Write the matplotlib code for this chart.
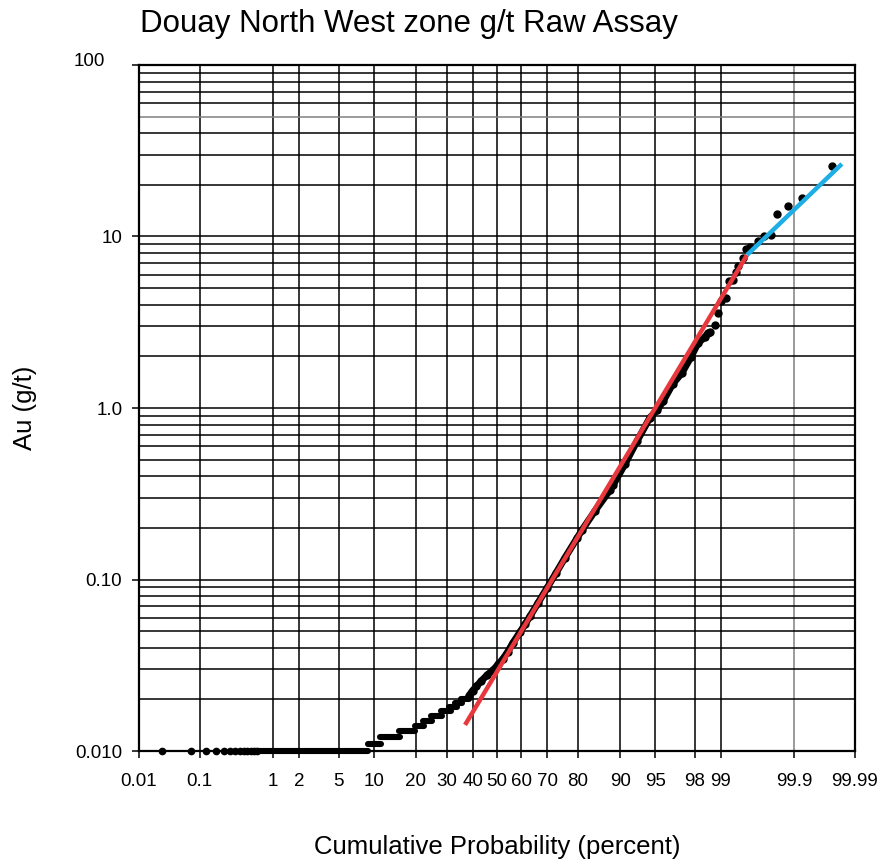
import math
import numpy as np
import matplotlib
matplotlib.use("Agg")
import matplotlib.pyplot as plt
import matplotlib.transforms as mtransforms

plt.rcParams['font.family'] = ['Liberation Sans', 'DejaVu Sans']

# --- data (cumulative percent, Au g/t) ---
# lowest assays, individual dots on the 0.010 detection limit
tail_pct = [0.025, 0.075, 0.125, 0.175, 0.225, 0.275, 0.325, 0.375,
            0.425, 0.475, 0.525, 0.575, 0.625]
tail_val = [0.010] * len(tail_pct)

# flat runs of equal assays (value, from %, to %)
step_val = [0.010, 0.011, 0.012, 0.013, 0.014, 0.015, 0.016, 0.017,
            0.018, 0.019, 0.020]
step_lo = [0.6, 9.0, 11.2, 15.4, 19.7, 22.0, 24.8, 28.0, 31.0, 33.0, 35.5]
step_hi = [9.0, 11.4, 15.6, 19.8, 22.5, 25.0, 28.5, 31.5, 34.0, 36.0, 38.5]

# dense rising part of the curve
curve_pct = [38.5, 40.0, 41.5, 43.5, 46.0, 48.5, 50.5, 52.5, 54.5, 56.6,
             59.5, 61.5, 63.4, 66.5, 69.8, 73.0, 76.0, 79.7, 81.2, 84.5,
             88.0, 88.6, 90.8, 92.7, 94.4, 95.2, 95.8, 96.6, 97.26, 97.8,
             98.16, 98.46, 98.58]
curve_val = [0.021, 0.0225, 0.0238, 0.0256, 0.0278, 0.0298, 0.032, 0.0345,
             0.038, 0.0428, 0.0495, 0.055, 0.061, 0.073, 0.089, 0.109,
             0.134, 0.174, 0.195, 0.250, 0.333, 0.355, 0.470, 0.640,
             0.880, 0.973, 1.10, 1.38, 1.60, 1.98, 2.39, 2.59, 2.74]

# sparse high-grade tail
top_pct = [98.65, 98.82, 98.91, 99.0, 99.13, 99.20, 99.29, 99.35, 99.38,
           99.47, 99.51, 99.57, 99.66, 99.72, 99.78, 99.82, 99.874,
           99.923, 99.975]
top_val = [2.76, 3.05, 3.6, 4.2, 4.4, 5.5, 5.6, 6.2, 6.7, 7.5, 8.4, 8.7,
           9.4, 10.1, 10.2, 13.5, 15.0, 16.8, 25.8]

# fitted populations
red_pct = [37.0, 99.53]
red_val = [0.0142, 7.8]
blue_pct = [99.53, 99.983]
blue_val = [7.8, 26.5]

prob_ticks = [0.01, 0.1, 1, 2, 5, 10, 20, 30, 40, 50, 60, 70, 80, 90, 95,
              98, 99, 99.9, 99.99]
prob_labels = ['0.01', '0.1', '1', '2', '5', '10', '20', '30', '40', '50',
               '60', '70', '80', '90', '95', '98', '99', '99.9', '99.99']
au_ticks = [0.01, 0.1, 1, 10, 100]
au_labels = ['0.010', '0.10', '1.0', '10', '100']


# --- probability (probit) scale, no scipy available ---
A = [-3.969683028665376e+01, 2.209460984245205e+02, -2.759285104469687e+02,
     1.383577518672690e+02, -3.066479806614716e+01, 2.506628277459239e+00]
B = [-5.447609879822406e+01, 1.615858368580409e+02, -1.556989798598866e+02,
     6.680131188771972e+01, -1.328068155288572e+01]
C = [-7.784894002430293e-03, -3.223964580411365e-01, -2.400758277161838e+00,
     -2.549671010229583e+00, 4.374664141464968e+00, 2.938163982698783e+00]
D = [7.784695709041462e-03, 3.224671290700398e-01, 2.445134137142996e+00,
     3.754408661907416e+00]


def _tail(t):
    num = ((((C[0] * t + C[1]) * t + C[2]) * t + C[3]) * t + C[4]) * t + C[5]
    den = (((D[0] * t + D[1]) * t + D[2]) * t + D[3]) * t + 1
    return num / den


def pct_to_z(p):
    p = np.asarray(p, dtype=float)
    shape = p.shape
    q = np.clip(np.atleast_1d(p) / 100.0, 1e-12, 1 - 1e-12)
    z = np.empty_like(q)
    lo = q < 0.02425
    hi = q > 1 - 0.02425
    mid = ~(lo | hi)
    r = q[mid] - 0.5
    s = r * r
    z[mid] = ((((((A[0] * s + A[1]) * s + A[2]) * s + A[3]) * s + A[4]) * s + A[5]) * r /
              (((((B[0] * s + B[1]) * s + B[2]) * s + B[3]) * s + B[4]) * s + 1))
    z[lo] = _tail(np.sqrt(-2 * np.log(q[lo])))
    z[hi] = -_tail(np.sqrt(-2 * np.log(1 - q[hi])))
    return z.reshape(shape)


_erfc = np.vectorize(math.erfc)


def z_to_pct(z):
    return 50.0 * _erfc(-np.asarray(z, dtype=float) / math.sqrt(2))


# --- figure ---
fig = plt.figure(figsize=(8.82, 8.63), dpi=100)
ax = fig.add_axes([139 / 882, 1 - 751 / 863, 716 / 882, 686 / 863])

ax.set_xscale('function', functions=(pct_to_z, z_to_pct))
ax.set_yscale('log')
ax.set_xlim(0.01, 99.99)
ax.set_ylim(0.01, 100)

ax.set_xticks(prob_ticks, prob_labels)
ax.set_yticks(au_ticks, au_labels)
ax.yaxis.set_minor_locator(matplotlib.ticker.LogLocator(base=10, subs=np.arange(2, 10)))
ax.yaxis.set_minor_formatter(matplotlib.ticker.NullFormatter())

ax.set_axisbelow(True)
ax.grid(True, axis='x', which='major', color='black', linewidth=1.1)
ax.grid(True, axis='y', which='both', color='black', linewidth=1.1)

# 99.9 line and 50 g/t line are drawn grey on the original
for loc, tick in zip(prob_ticks, ax.xaxis.get_major_ticks()):
    if loc == 99.9:
        tick.gridline.set_color('#808080')
for loc, tick in zip(ax.yaxis.get_minorticklocs(), ax.yaxis.get_minor_ticks()):
    if abs(loc - 50) < 1e-6:
        tick.gridline.set_color('#808080')

for sp in ax.spines.values():
    sp.set_linewidth(1.6)
    sp.set_color('black')

ax.tick_params(axis='x', which='major', direction='out', length=5, width=1.1,
               pad=11, labelsize=13.5)
ax.tick_params(axis='y', which='major', direction='out', length=5, width=1.1,
               pad=7, labelsize=13.5)
ax.tick_params(axis='y', which='minor', length=0)

# the "100" label sits a bit further left/up on the original
lab = ax.get_yticklabels()[-1]
lab.set_transform(lab.get_transform() +
                  mtransforms.ScaledTranslation(-0.17, 0.06, fig.dpi_scale_trans))

# data
for v, lo, hi in zip(step_val, step_lo, step_hi):
    ax.plot([lo, hi], [v, v], color='black', linewidth=4.4,
            solid_capstyle='round', clip_on=False, zorder=3)
ax.plot(curve_pct, curve_val, color='black', linewidth=5,
        solid_capstyle='round', solid_joinstyle='round', zorder=3)
ax.plot(curve_pct, curve_val, 'o', color='black', markersize=5, zorder=3)
ax.plot(tail_pct, tail_val, 'o', color='black', markersize=4.5,
        clip_on=False, zorder=3)
ax.plot(top_pct, top_val, 'o', color='black', markersize=5, zorder=3)

ax.plot(red_pct, red_val, color='#e8383d', linewidth=3.2,
        solid_capstyle='butt', zorder=4)
ax.plot(blue_pct, blue_val, color='#1eaee6', linewidth=3.2,
        solid_capstyle='butt', zorder=4)

ax.set_xlabel('Cumulative Probability (percent)', fontsize=18.5)
ax.xaxis.set_label_coords(0.5, -0.122)
ax.set_ylabel('Au (g/t)', fontsize=18.5)
ax.yaxis.set_label_coords(-0.143, 0.5)

fig.text(140 / 882, 1 - 32 / 863, 'Douay North West zone g/t Raw Assay',
         fontsize=22.5, ha='left', va='baseline')

fig.savefig('out.png', dpi=100)
